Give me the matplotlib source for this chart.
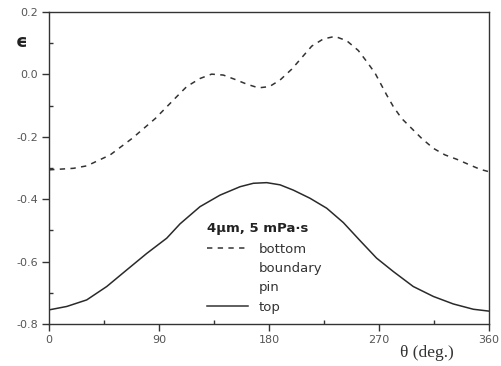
import matplotlib
matplotlib.use("Agg")
import matplotlib.pyplot as plt
from matplotlib.lines import Line2D
from matplotlib.ticker import MultipleLocator

# values (theta in degrees, strain epsilon)
theta_bottom = [0, 20, 31, 50, 68, 87, 104.5, 112.6, 123.5, 133, 142.6, 152.2, 161.7, 171.3,
                180.3, 189, 198.6, 206.8, 215, 224.5, 234, 243.6, 253, 260, 266.8, 276.3,
                281.7, 288.5, 296.7, 304.9, 314.5, 324, 333.6, 343, 352.6, 360]
eps_bottom = [-0.306, -0.301, -0.293, -0.258, -0.205, -0.141, -0.071, -0.039, -0.013, 0.001,
              -0.002, -0.016, -0.031, -0.043, -0.039, -0.018, 0.017, 0.054, 0.091, 0.114,
              0.122, 0.108, 0.077, 0.041, 0.004, -0.066, -0.103, -0.141, -0.173, -0.205,
              -0.237, -0.258, -0.272, -0.288, -0.304, -0.312]

theta_top = [0, 14.5, 30.8, 47.2, 63.5, 79.9, 96.3, 107.2, 123.5, 139.9, 156.3, 167.2,
             178.1, 189, 199.9, 213.5, 227.2, 240.8, 254.5, 268, 281.7, 298, 314.5,
             330.8, 347.2, 360]
eps_top = [-0.755, -0.744, -0.723, -0.680, -0.627, -0.574, -0.525, -0.479, -0.424, -0.387,
           -0.360, -0.349, -0.347, -0.354, -0.371, -0.397, -0.429, -0.475, -0.533, -0.589,
           -0.632, -0.680, -0.712, -0.736, -0.753, -0.759]

legend_title = "4\u03bcm, 5 mPa\u00b7s"
legend_labels = ["bottom", "boundary", "pin", "top"]

fig = plt.figure(figsize=(5.01, 3.66), dpi=100)
ax = fig.add_axes([0.098, 0.115, 0.878, 0.852])

ax.plot(theta_bottom, eps_bottom, color="#333333", lw=1.1, linestyle=(0, (3.5, 3.5)))
ax.plot(theta_top, eps_top, color="#2a2a2a", lw=1.1)

ax.set_xlim(0, 360)
ax.set_ylim(-0.8, 0.2)
ax.set_xticks([0, 90, 180, 270, 360])
ax.set_yticks([0.2, 0.0, -0.2, -0.4, -0.6, -0.8])
ax.set_yticklabels(["0.2", "0.0", "-0.2", "-0.4", "-0.6", "-0.8"])
ax.xaxis.set_minor_locator(MultipleLocator(45))
ax.yaxis.set_minor_locator(MultipleLocator(0.1))
ax.tick_params(which="major", direction="out", length=5, width=1, color="#333333",
               labelsize=8, labelcolor="#555555", pad=3)
ax.tick_params(which="minor", direction="in", length=3, width=1, color="#333333")
ax.tick_params(top=False, right=False, which="both")
for s in ax.spines.values():
    s.set_color("#333333")
    s.set_linewidth(1)

# legend (boundary and pin have no visible line in the reference)
handles = [Line2D([], [], color="#333333", lw=1.1, linestyle=(0, (3.5, 3.5))),
           Line2D([], [], linestyle="none"),
           Line2D([], [], linestyle="none"),
           Line2D([], [], color="#333333", lw=1.1)]
leg = ax.legend(handles, legend_labels, title=legend_title, loc="upper left",
                bbox_to_anchor=(0.36, 0.328), frameon=False, fontsize=9.5,
                handlelength=3.1, handletextpad=0.75, labelspacing=0.47,
                borderaxespad=0, borderpad=0,
                title_fontproperties={"weight": "bold", "size": 9.5})
leg._legend_box.align = "left"
leg._legend_box.sep = 6
for t in leg.get_texts():
    t.set_color("#333333")
leg.get_title().set_color("#222222")

fig.text(0.044, 0.885, "\u03f5", fontsize=13, fontweight="bold", color="#222222",
         ha="center", va="center")
fig.text(0.798, 0.035, "\u03b8 (deg.)", fontsize=12.5, family="Liberation Serif",
         color="#333333", ha="left", va="center")

fig.savefig("out.png", dpi=100)
